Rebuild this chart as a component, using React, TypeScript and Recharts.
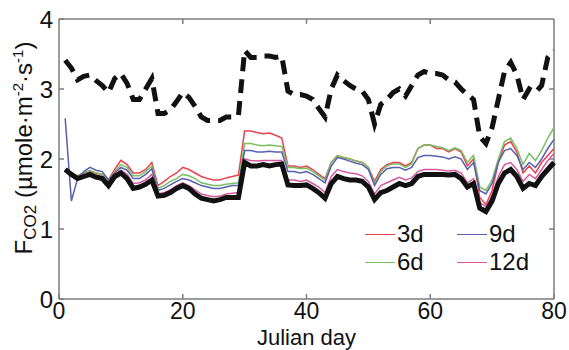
import React from 'react';
import { LineChart, Line, XAxis, YAxis, Legend, ReferenceLine } from 'recharts';

const days: number[] = Array.from({ length: 80 }, (_, i) => i + 1);

const modeled: number[] = [
  3.41, 3.3, 3.13, 3.18, 3.2, 3.12, 3.05, 2.95, 3.15, 3.22,
  3.08, 2.85, 2.85, 3.0, 3.15, 2.65, 2.65, 2.7, 2.82, 2.95,
  2.88, 2.75, 2.6, 2.55, 2.55, 2.55, 2.6, 2.6, 2.62, 3.55,
  3.45, 3.45, 3.47, 3.47, 3.45, 3.47, 2.97, 2.92, 2.92, 2.9,
  2.85, 2.72, 2.6, 3.0, 3.2, 3.12, 3.05, 3.0, 2.97, 2.85,
  2.5, 2.78, 2.85, 2.95, 3.0, 2.9, 3.05, 3.2, 3.25, 3.22,
  3.22, 3.2, 3.13, 3.1, 3.0, 2.92, 2.85, 2.32, 2.22, 2.45,
  2.85, 3.25, 3.38, 3.2, 2.85, 3.0, 2.95, 3.05, 3.45, 3.55,
];

const observed: number[] = [
  1.85, 1.78, 1.72, 1.75, 1.78, 1.74, 1.72, 1.62, 1.75, 1.8,
  1.72, 1.58, 1.6, 1.64, 1.7, 1.47, 1.48, 1.52, 1.58, 1.62,
  1.58, 1.5, 1.44, 1.42, 1.4, 1.42, 1.45, 1.45, 1.45, 1.95,
  1.9, 1.9, 1.92, 1.9, 1.92, 1.93, 1.63, 1.62, 1.62, 1.63,
  1.58, 1.52, 1.44, 1.65, 1.75, 1.72, 1.7, 1.7, 1.68, 1.6,
  1.42, 1.52, 1.55, 1.6, 1.65, 1.62, 1.65, 1.75, 1.78, 1.78,
  1.78, 1.78, 1.77, 1.78, 1.72, 1.6, 1.65, 1.3, 1.25, 1.4,
  1.65, 1.8, 1.85, 1.75, 1.58, 1.65, 1.62, 1.75, 1.85, 1.95,
];

const d3: number[] = [
  1.85, 1.78, 1.76, 1.8, 1.82, 1.8, 1.78, 1.7, 1.85, 1.98,
  1.92, 1.8, 1.8, 1.85, 1.95, 1.62, 1.68, 1.75, 1.8, 1.88,
  1.85, 1.8, 1.75, 1.72, 1.7, 1.7, 1.73, 1.75, 1.77, 2.4,
  2.4, 2.38, 2.36, 2.37, 2.34, 2.3, 1.9, 1.9, 1.88, 1.9,
  1.85, 1.78, 1.72, 1.95, 2.05, 2.02, 2.0, 1.97, 1.95, 1.88,
  1.68, 1.85, 1.92, 1.95, 1.95, 1.9, 1.95, 2.15, 2.2, 2.2,
  2.15, 2.15, 2.1, 2.15, 2.1, 1.9, 2.0, 1.45, 1.35, 1.55,
  1.95, 2.2, 2.25, 2.1, 1.8, 1.9, 1.8, 1.95, 2.05, 2.15,
];

const d6: number[] = [
  1.85, 1.78, 1.76, 1.8, 1.84, 1.8, 1.78, 1.68, 1.82, 1.92,
  1.88, 1.76, 1.76, 1.82, 1.9, 1.58, 1.62, 1.68, 1.72, 1.78,
  1.76, 1.72, 1.66, 1.64, 1.62, 1.62, 1.64, 1.65, 1.66, 2.22,
  2.22, 2.2, 2.19, 2.2, 2.19, 2.18, 1.88, 1.88, 1.86, 1.87,
  1.82, 1.76, 1.7, 1.95, 2.05, 2.02, 2.0, 1.97, 1.95, 1.88,
  1.65, 1.82, 1.9, 1.93, 1.93, 1.88, 1.93, 2.15, 2.2, 2.2,
  2.18, 2.16, 2.12, 2.16, 2.12, 1.95, 2.05, 1.6, 1.55, 1.7,
  2.0, 2.25, 2.3, 2.15, 1.92, 2.08, 1.98, 2.12, 2.3, 2.45,
];

const d9: number[] = [
  2.58, 1.4, 1.72, 1.82, 1.88, 1.84, 1.82, 1.7, 1.8, 1.88,
  1.84, 1.72, 1.72, 1.78, 1.86, 1.55, 1.58, 1.63, 1.68, 1.72,
  1.7, 1.66, 1.62, 1.6, 1.58, 1.58, 1.6, 1.62, 1.62, 2.12,
  2.12, 2.1, 2.1, 2.11, 2.1, 2.1, 1.82, 1.82, 1.8, 1.82,
  1.78, 1.72, 1.66, 1.9, 2.02, 2.0, 1.97, 1.94, 1.92, 1.85,
  1.62, 1.78, 1.86, 1.88, 1.88, 1.84, 1.88, 2.02, 2.05, 2.05,
  2.04, 2.03, 2.0, 2.03, 2.0, 1.85, 1.95, 1.55, 1.5, 1.65,
  1.95, 2.12, 2.15, 2.05, 1.85, 1.95, 1.88, 2.0, 2.15, 2.28,
];

const d12: number[] = [
  1.85, 1.78, 1.74, 1.78, 1.8, 1.77, 1.75, 1.65, 1.78, 1.84,
  1.78, 1.65, 1.66, 1.7, 1.78, 1.5, 1.52, 1.56, 1.62, 1.66,
  1.62, 1.56, 1.5, 1.48, 1.46, 1.47, 1.5, 1.51, 1.52, 2.0,
  1.98, 1.97, 1.98, 1.98, 1.98, 1.98, 1.7, 1.7, 1.68, 1.7,
  1.65, 1.6, 1.52, 1.75, 1.85, 1.82, 1.8, 1.79, 1.76, 1.68,
  1.5, 1.62, 1.66, 1.7, 1.74, 1.7, 1.73, 1.82, 1.85, 1.85,
  1.85, 1.84, 1.83, 1.84, 1.8, 1.66, 1.72, 1.38, 1.32, 1.48,
  1.75, 1.92, 1.95, 1.85, 1.68, 1.78, 1.72, 1.85, 1.98, 2.08,
];

const xTicks: number[] = [0, 20, 40, 60, 80];
const yTicks: number[] = [0, 1, 2, 3, 4];
const innerXTicks: number[] = [20, 40, 60];
const innerYTicks: number[] = [1, 2, 3];

const legendItems = [
  { key: 'd3', label: '3d', color: '#e8424f' },
  { key: 'd9', label: '9d', color: '#5a5fae' },
  { key: 'd6', label: '6d', color: '#78c064' },
  { key: 'd12', label: '12d', color: '#d55a9e' },
];
const colorOf: Record<string, string> = Object.fromEntries(legendItems.map((l) => [l.key, l.color]));

const data = days.map((d, i) => ({
  day: d,
  modeled: modeled[i],
  observed: observed[i],
  d3: d3[i],
  d6: d6[i],
  d9: d9[i],
  d12: d12[i],
}));

const FONT = '"Liberation Sans", Arial, Helvetica, sans-serif';
const AX = '#7d7d7d';

const LegendBox = () => (
  <div
    style={{
      display: 'grid',
      gridTemplateColumns: '92px 90px',
      rowGap: 2,
      fontFamily: FONT,
      fontSize: 24,
      color: '#111',
      lineHeight: '26px',
    }}
  >
    {legendItems.map((it) => (
      <div key={it.key} style={{ display: 'flex', alignItems: 'center' }}>
        <span style={{ display: 'inline-block', width: 30, height: 0, borderTop: `1.5px solid ${it.color}`, marginRight: 2 }} />
        <span>{it.label}</span>
      </div>
    ))}
  </div>
);

export default function App() {
  return (
    <div style={{ position: 'absolute', left: 0, top: 0, width: 569, height: 350, background: '#fff' }}>
      <LineChart
        width={569}
        height={350}
        data={data}
        margin={{ top: 19, right: 15, bottom: 21, left: 9 }}
        style={{ fontFamily: FONT }}
      >
        <XAxis
          dataKey="day"
          type="number"
          domain={[0, 80]}
          ticks={xTicks}
          height={30}
          tickSize={-5}
          tickMargin={9}
          stroke={AX}
          strokeWidth={1.5}
          tick={{ fill: '#111', fontSize: 23, fontFamily: FONT }}
          label={{ value: 'Julian day', position: 'bottom', offset: 0, fill: '#111', fontSize: 22, fontFamily: FONT }}
          interval={0}
        />
        <YAxis
          type="number"
          domain={[0, 4]}
          ticks={yTicks}
          width={50}
          tickSize={-5}
          tickMargin={11}
          stroke={AX}
          strokeWidth={1.5}
          tick={{ fill: '#111', fontSize: 24, fontFamily: FONT }}
          interval={0}
        />
        <ReferenceLine y={4} stroke={AX} strokeWidth={1.5} ifOverflow="visible" />
        <ReferenceLine x={80} stroke={AX} strokeWidth={1.5} ifOverflow="visible" />
        {innerXTicks.map((t) => (
          <ReferenceLine key={`tx${t}`} ifOverflow="visible" segment={[{ x: t, y: 4 }, { x: t, y: 3.93 }]} stroke={AX} strokeWidth={1.5} />
        ))}
        {innerYTicks.map((t) => (
          <ReferenceLine key={`ty${t}`} ifOverflow="visible" segment={[{ x: 80, y: t }, { x: 79.2, y: t }]} stroke={AX} strokeWidth={1.5} />
        ))}
        <Legend
          layout="horizontal"
          verticalAlign="middle"
          align="center"
          content={() => <LegendBox />}
          wrapperStyle={{ position: 'absolute', left: 365, top: 221, width: 190, height: 56 }}
        />
        <Line dataKey="d3" stroke={colorOf.d3} strokeWidth={1.5} dot={false} isAnimationActive={false} />
        <Line dataKey="d6" stroke={colorOf.d6} strokeWidth={1.5} dot={false} isAnimationActive={false} />
        <Line dataKey="d9" stroke={colorOf.d9} strokeWidth={1.5} dot={false} isAnimationActive={false} />
        <Line dataKey="d12" stroke={colorOf.d12} strokeWidth={1.5} dot={false} isAnimationActive={false} />
        <Line dataKey="observed" stroke="#111" strokeWidth={5} dot={false} isAnimationActive={false} />
        <Line dataKey="modeled" stroke="#111" strokeWidth={5} strokeDasharray="14 8" dot={false} isAnimationActive={false} />
      </LineChart>
      <svg width={569} height={350} style={{ position: 'absolute', left: 0, top: 0, pointerEvents: 'none' }}>
        <text
          x={32}
          y={148}
          transform="rotate(-90 32 148)"
          textAnchor="middle"
          fontFamily={FONT}
          fontSize={24}
          fill="#111"
        >
          <tspan>F</tspan>
          <tspan fontSize={17} dy={4}>CO2</tspan>
          <tspan dy={-4}> (µmole·m</tspan>
          <tspan fontSize={15} dy={-9}>-2</tspan>
          <tspan dy={9}>·s</tspan>
          <tspan fontSize={15} dy={-9}>-1</tspan>
          <tspan dy={9}>)</tspan>
        </text>
      </svg>
    </div>
  );
}
